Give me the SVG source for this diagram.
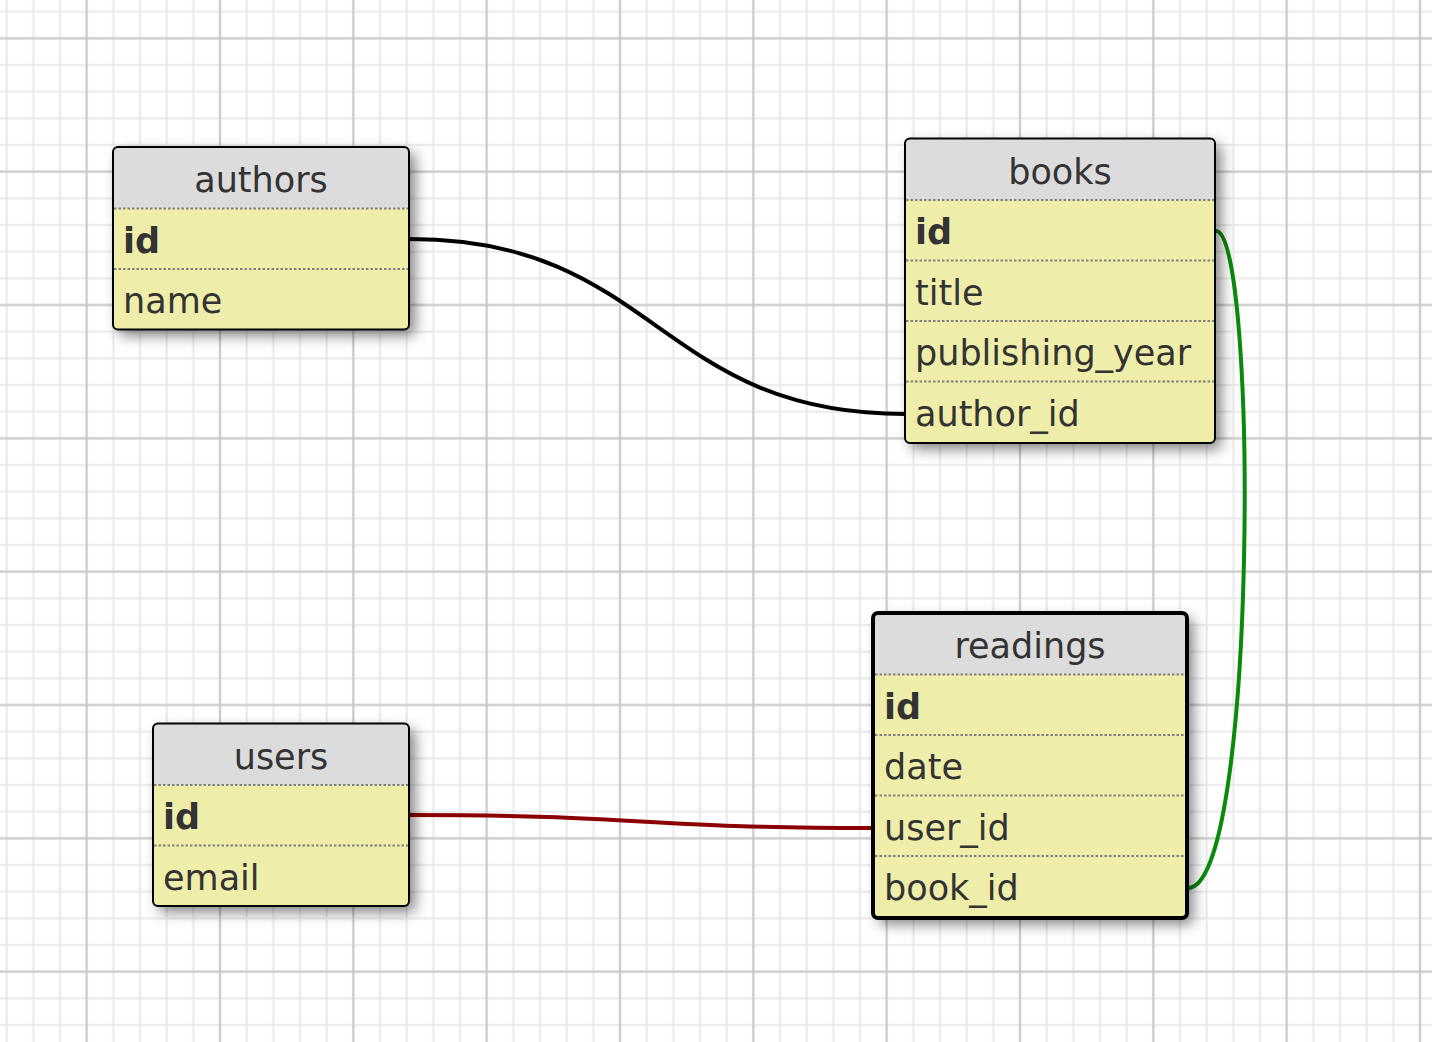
<svg xmlns="http://www.w3.org/2000/svg" width="1432" height="1042" viewBox="0 0 1432 1042">
<defs>
<pattern id="minor" patternUnits="userSpaceOnUse" width="26.6667" height="26.6667">
<rect x="5.667" y="0" width="2" height="26.6667" fill="#e9e9e9"/>
<rect x="0" y="10.667" width="26.6667" height="2" fill="#e9e9e9"/>
</pattern>
<pattern id="major" patternUnits="userSpaceOnUse" width="133.3333" height="133.3333">
<rect x="85.667" y="0" width="2" height="133.3333" fill="#c9c9c9"/>
<rect x="0" y="37.333" width="133.3333" height="2" fill="#c9c9c9"/>
</pattern>
<filter id="shadow" x="-20%" y="-20%" width="150%" height="150%">
<feDropShadow dx="6" dy="6" stdDeviation="7" flood-color="#000" flood-opacity="0.5"/>
</filter>
<style>
.body{fill:#eeeeaa;}
.head{fill:#dcdcdc;}
.frame{fill:none;stroke:#000;stroke-width:2;}
.frame.sel{stroke-width:4;}
.sep{stroke:#808080;stroke-width:2;stroke-dasharray:2.5 2;}
.t{font-family:"DejaVu Sans","Verdana",sans-serif;font-size:35px;fill:#333;}
.title{text-anchor:middle;}
.pk{font-weight:bold;}
.conn{fill:none;stroke-width:4;}
</style>
</defs>
<rect width="1432" height="1042" fill="#fff"/>
<rect width="1432" height="1042" fill="url(#minor)"/>
<rect width="1432" height="1042" fill="url(#major)"/>

<g id="connectors">
<path class="conn" d="M410,239 C657,239 657,414 905,414" stroke="#000"/>
<path class="conn" d="M410,815 C641,815 641,828 873,828" stroke="#8b0000"/>
<path class="conn" d="M1216,231 C1258,231 1258,888 1188,888" stroke="#0a8a0a"/>
</g>

<g id="authors" transform="translate(113,147)">
<rect class="body" width="296" height="182.5" rx="5" filter="url(#shadow)"/>
<path class="head" d="M0,61.5 V5 Q0,0 5,0 H291 Q296,0 296,5 V61.5 Z"/>
<line class="sep" x1="1" y1="61.5" x2="295" y2="61.5"/>
<line class="sep" x1="1" y1="122" x2="295" y2="122"/>
<text class="t title" x="148" y="45">authors</text>
<text class="t pk" x="10" y="105.5">id</text>
<text class="t" x="10" y="166">name</text>
<rect class="frame" width="296" height="182.5" rx="5"/>
</g>

<g id="books" transform="translate(905,138.5)">
<rect class="body" width="310" height="304.5" rx="5" filter="url(#shadow)"/>
<path class="head" d="M0,61.5 V5 Q0,0 5,0 H305 Q310,0 310,5 V61.5 Z"/>
<line class="sep" x1="1" y1="61.5" x2="309" y2="61.5"/>
<line class="sep" x1="1" y1="122" x2="309" y2="122"/>
<line class="sep" x1="1" y1="182.5" x2="309" y2="182.5"/>
<line class="sep" x1="1" y1="243" x2="309" y2="243"/>
<text class="t title" x="155" y="45">books</text>
<text class="t pk" x="10" y="105.5">id</text>
<text class="t" x="10" y="166">title</text>
<text class="t" x="10" y="226.5">publishing_year</text>
<text class="t" x="10" y="287">author_id</text>
<rect class="frame" width="310" height="304.5" rx="5"/>
</g>

<g id="readings" transform="translate(873,613)">
<rect class="body" width="314" height="305" rx="5" filter="url(#shadow)"/>
<path class="head" d="M0,61.5 V5 Q0,0 5,0 H309 Q314,0 314,5 V61.5 Z"/>
<line class="sep" x1="2" y1="61.5" x2="312" y2="61.5"/>
<line class="sep" x1="2" y1="122" x2="312" y2="122"/>
<line class="sep" x1="2" y1="182.5" x2="312" y2="182.5"/>
<line class="sep" x1="2" y1="243" x2="312" y2="243"/>
<text class="t title" x="157" y="45">readings</text>
<text class="t pk" x="11" y="105.5">id</text>
<text class="t" x="11" y="166">date</text>
<text class="t" x="11" y="226.5">user_id</text>
<text class="t" x="11" y="287">book_id</text>
<rect class="frame sel" width="314" height="305" rx="5"/>
</g>

<g id="users" transform="translate(153,723.5)">
<rect class="body" width="256" height="182.5" rx="5" filter="url(#shadow)"/>
<path class="head" d="M0,61.5 V5 Q0,0 5,0 H251 Q256,0 256,5 V61.5 Z"/>
<line class="sep" x1="1" y1="61.5" x2="255" y2="61.5"/>
<line class="sep" x1="1" y1="122" x2="255" y2="122"/>
<text class="t title" x="128" y="45">users</text>
<text class="t pk" x="10" y="105.5">id</text>
<text class="t" x="10" y="166">email</text>
<rect class="frame" width="256" height="182.5" rx="5"/>
</g>
</svg>
